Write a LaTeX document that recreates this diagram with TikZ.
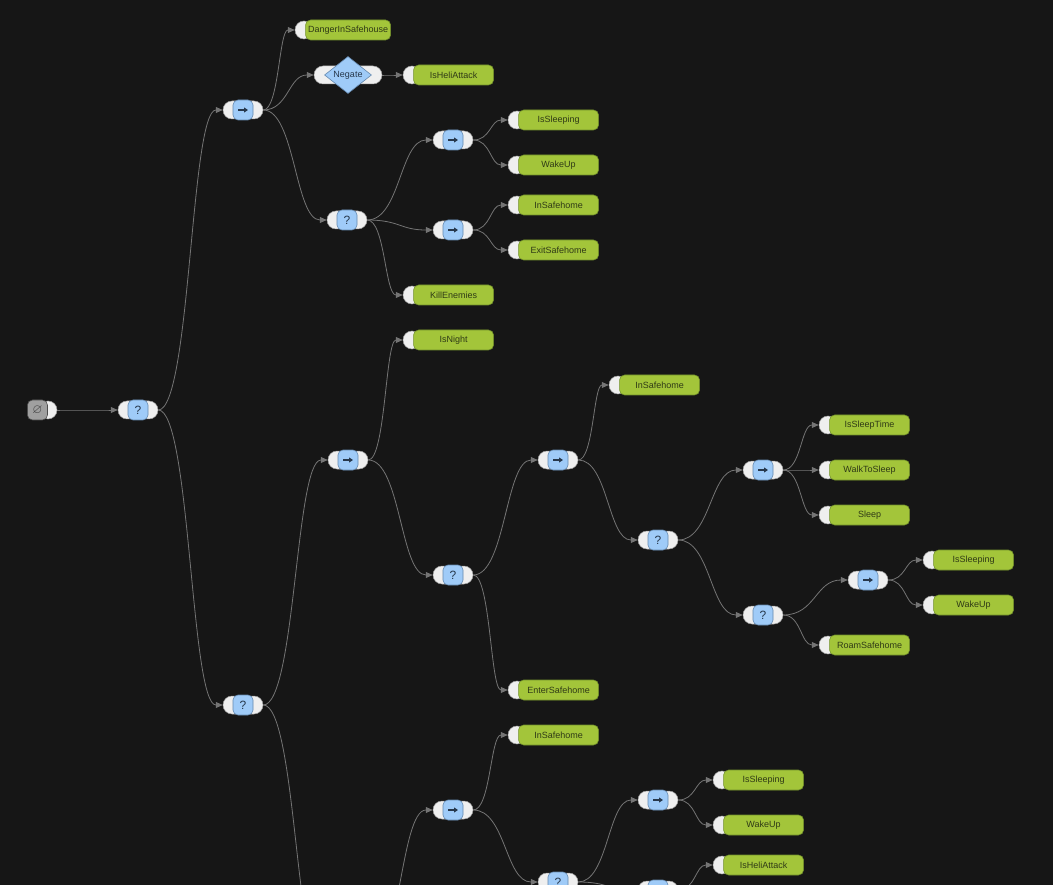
\documentclass[tikz,border=0pt]{standalone}
\usepackage{amssymb}
\usepackage{fontspec}
\setmainfont{Liberation Sans}
\usepackage{xcolor}
\usepackage{tikz}
\usetikzlibrary{shapes.geometric, arrows.meta, positioning, calc}

\definecolor{bgc}{HTML}{161616}
\definecolor{linec}{HTML}{747474}
\definecolor{portc}{HTML}{EFEFEF}
\definecolor{portd}{HTML}{A0A0A0}
\definecolor{bluec}{HTML}{9FCBF8}
\definecolor{blued}{HTML}{6488AE}
\definecolor{leafc}{HTML}{A3C53A}
\definecolor{leafd}{HTML}{71902A}
\definecolor{leaft}{HTML}{2F3A16}
\definecolor{symc}{HTML}{27384C}
\definecolor{rootc}{HTML}{A0A0A0}

\newcommand{\seqarrow}{\tikz\draw[symc, line width=1.2pt, -{Triangle[length=4pt,width=5pt]}] (0pt,0pt) -- (10pt,0pt);}

\tikzset{
  port/.style={circle, fill=portc, draw=portd, line width=0.5pt, minimum size=18pt, inner sep=0pt},
  ports/.style={rectangle, rounded corners=9pt, fill=portc, draw=portd, line width=0.5pt,
    minimum width=40pt, minimum height=18pt, inner sep=0pt},
  blk/.style={rectangle, rounded corners=5pt, fill=bluec, draw=blued, line width=0.6pt,
    minimum size=20pt, inner sep=0pt, text=symc, font=\fontsize{12}{12}\selectfont},
  dia/.style={diamond, fill=bluec, draw=blued, line width=0.6pt, minimum width=47pt,
    minimum height=34pt, inner sep=0pt, text=symc, font=\fontsize{9}{9}\selectfont},
  leaf/.style={rectangle, rounded corners=5pt, fill=leafc, draw=leafd, line width=0.6pt,
    minimum width=80pt, minimum height=20pt, inner xsep=2.5pt, text=leaft,
    font=\fontsize{9}{9}\selectfont},
  rootbox/.style={rectangle, rounded corners=5pt, fill=rootc, draw=gray!60!black,
    line width=0.6pt, minimum size=20pt, inner sep=0pt, text=black!75,
    font=\fontsize{13}{13}\selectfont},
  link/.style={draw=linec, line width=0.8pt, -{Triangle[length=7pt,width=6pt]},
    to path={let \p1=(\tikztostart), \p2=(\tikztotarget) in
      .. controls ({(\x1+\x2)/2},\y1) and ({(\x1+\x2)/2},\y2) .. (\tikztotarget)}}
}

\begin{document}
\begin{tikzpicture}[x=1pt, y=-1pt]
  % Frame and dark background
  \useasboundingbox (0,0) rectangle (1053,885);
  \fill[bgc] (0,0) rectangle (1053,885);
  \clip (0,0) rectangle (1053,885);

  % Root with its output port
  \node[port] (root) at (48,410) {};
  \node[rootbox, left=-9pt of root] (root-b) {$\varnothing$};

  % Selector and sequence nodes: white ports first, blue box on top
  \foreach \n/\px/\py in {sel1/138/410, seq1/243/110, sel2/347/220, seq2/453/140,
      seq3/453/230, sel3/243/705, seq4/348/460, sel4/453/575, seq5/558/460,
      sel5/658/540, seq6/763/470, sel6/763/615, seq7/868/580, seq8/453/810,
      sel7/558/882, seq9/658/800, seq10/658/890}
    \node[ports] (\n) at (\px,\py) {};
  \foreach \n in {sel1, sel2, sel3, sel4, sel5, sel6, sel7}
    \node[blk] (\n-b) at (\n) {?};
  \foreach \n in {seq1, seq2, seq3, seq4, seq5, seq6, seq7, seq8, seq9, seq10}
    \node[blk] (\n-b) at (\n) {\seqarrow};

  % Negate decorator
  \node[ports, minimum width=68pt] (neg) at (348,75) {};
  \node[dia] (neg-b) at (neg) {Negate};

  % Leaves: input port, then the green box
  \foreach \n/\px/\py/\t in {danger/304/30/DangerInSafehouse, heli1/412/75/IsHeliAttack,
      sleeping1/517/120/IsSleeping, wake1/517/165/WakeUp, insafe1/517/205/InSafehome,
      exit/517/250/ExitSafehome, kill/412/295/KillEnemies, night/412/340/IsNight,
      insafe2/618/385/InSafehome, sleeptime/828/425/IsSleepTime, walk/828/470/WalkToSleep,
      sleep/828/515/Sleep, sleeping2/932/560/IsSleeping, wake2/932/605/WakeUp,
      roam/828/645/RoamSafehome, enter/517/690/EnterSafehome, insafe3/517/735/InSafehome,
      sleeping3/722/780/IsSleeping, wake3/722/825/WakeUp, heli2/722/865/IsHeliAttack} {
    \node[port] (\n) at (\px,\py) {};
    \node[leaf, right=-8pt of \n] (\n-t) {\t};
  }

  % Links, parent to child
  \foreach \a/\b in {root/sel1, sel1/seq1, sel1/sel3, seq1/danger, seq1/neg, seq1/sel2,
      neg/heli1, sel2/seq2, sel2/seq3, sel2/kill, seq2/sleeping1, seq2/wake1,
      seq3/insafe1, seq3/exit, sel3/seq4, seq4/night, seq4/sel4, sel4/seq5, sel4/enter,
      seq5/insafe2, seq5/sel5, sel5/seq6, sel5/sel6, seq6/sleeptime, seq6/walk,
      seq6/sleep, sel6/seq7, sel6/roam, seq7/sleeping2, seq7/wake2, seq8/insafe3,
      seq8/sel7, sel7/seq9, sel7/seq10, seq9/sleeping3, seq9/wake3, seq10/heli2}
    \draw[link] (\a.east) to (\b.west);

  % Links that leave the frame at the bottom
  \coordinate (below1) at (328,960);
  \coordinate (below2) at (368,960);
  \draw[link] (sel3.east) to (below1);
  \draw[link] (below2) to (seq8.west);
\end{tikzpicture}
\end{document}
